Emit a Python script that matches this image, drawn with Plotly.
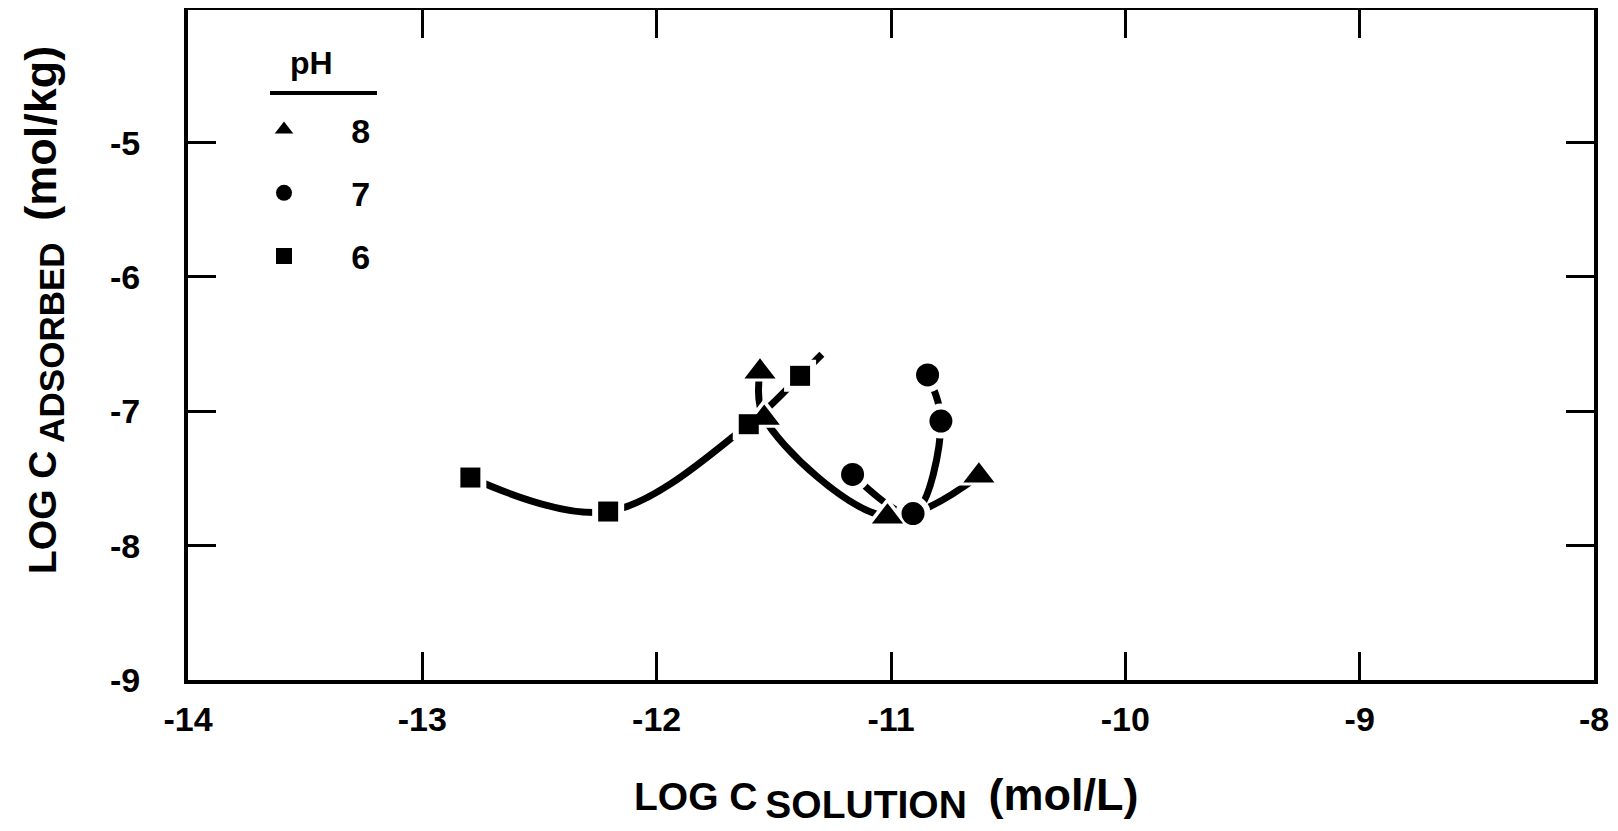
import plotly.graph_objects as go

# ---- data ----
ph_labels = ["8", "7", "6"]

ph8_x = [-11.559, -11.541, -11.015, -10.625]
ph8_y = [-6.706, -7.050, -7.784, -7.480]

ph7_x = [-11.164, -10.906, -10.787, -10.844]
ph7_y = [-7.470, -7.761, -7.073, -6.729]

ph6_x = [-12.795, -12.207, -11.607, -11.388]
ph6_y = [-7.493, -7.746, -7.096, -6.736]
# the pH 6 curve continues a little past its last point
ph6_curve_end_x = [-11.295]
ph6_curve_end_y = [-6.575]

x_ticks = [-14, -13, -12, -11, -10, -9, -8]
x_ticktext = ["-14", "-13", "-12", "-11", "-10", "-9", "-8"]
y_ticks = [-9, -8, -7, -6, -5]
y_ticktext = ["-9", "-8", "-7", "-6", "-5"]

FONT = "Liberation Sans"
# the page body has an 8px default margin, so the figure starts at (8, 8)
OFF = 8
W, H = 1618 - OFF, 831 - OFF
# plot frame in page pixels: x 188..1594, y 10..680
FL, FR, FT, FB = 188, 1594, 10, 680
ML, MT = FL - OFF, FT - OFF
MR, MB = W - (FR - OFF), H - (FB - OFF)
PW, PH = FR - FL, FB - FT


def px_to_paper_x(px):
    return (px - FL) / PW


def px_to_paper_y(py):
    return (FB - py) / PH


fig = go.Figure()

LW = 7
# curves first
for xs, ys in [(ph6_x + ph6_curve_end_x, ph6_y + ph6_curve_end_y),
               (ph8_x, ph8_y),
               (ph7_x, ph7_y)]:
    fig.add_trace(go.Scatter(x=xs, y=ys, mode="lines",
                             line=dict(color="black", width=LW, shape="spline", smoothing=1.0),
                             showlegend=False, hoverinfo="skip"))

series = [(ph6_x, ph6_y, "square", 20, "pH 6"),
          (ph7_x, ph7_y, "circle", 23, "pH 7"),
          (ph8_x, ph8_y, "triangle-up", 27, "pH 8")]
GAP = 12
# white halos (gaps in the curves around each point)
for xs, ys, sym, sz, nm in series:
    fig.add_trace(go.Scatter(x=xs, y=ys, mode="markers",
                             marker=dict(symbol=sym, size=sz + GAP, color="white"),
                             showlegend=False, hoverinfo="skip"))
# black markers on top
for xs, ys, sym, sz, nm in series:
    fig.add_trace(go.Scatter(x=xs, y=ys, mode="markers", name=nm,
                             marker=dict(symbol=sym, size=sz, color="black"),
                             showlegend=False))

# legend entries
NB = "\u00a0"
for lab, sym, grp in zip(ph_labels, ["triangle-up", "circle", "square"], ["a", "b", "c"]):
    fig.add_trace(go.Scatter(x=[None], y=[None], mode="markers",
                             marker=dict(symbol=sym, size=20, color="black"),
                             name=NB * 5 + lab, legendgroup=grp, showlegend=True))

axis_common = dict(
    showline=True, linecolor="black", linewidth=4, mirror="ticks",
    ticks="inside", ticklen=28, tickwidth=3, tickcolor="black",
    showgrid=False, zeroline=False,
    tickfont=dict(family=FONT, size=34, color="black", weight="bold"),
)

fig.update_xaxes(range=[-14, -8], tickvals=x_ticks, ticktext=x_ticktext,
                 ticklabelstandoff=6, **axis_common)
fig.update_yaxes(range=[-9, -4.013], tickvals=y_ticks, ticktext=y_ticktext,
                 ticklabelstandoff=37, **axis_common)

x_title = ("LOG C\u2009<sub><span style=\"font-size:39px\">SOLUTION</span></sub>"
           + NB * 2 + "<span style=\"font-size:45px\">(mol/L)</span>")
y_title = ("LOG C\u2009<sub><span style=\"font-size:35px\">ADSORBED</span></sub>"
           + NB * 2 + "<span style=\"font-size:45px\">(mol/kg)</span>")

fig.update_layout(
    width=W, height=H,
    margin=dict(l=ML, r=MR, t=MT, b=MB, autoexpand=False),
    paper_bgcolor="white", plot_bgcolor="white",
    font=dict(family=FONT, color="black", weight="bold"),
    legend=dict(
        x=px_to_paper_x(264), y=px_to_paper_y(101), xanchor="left", yanchor="top",
        bgcolor="rgba(0,0,0,0)", borderwidth=0,
        font=dict(family=FONT, size=34, color="black", weight="bold"),
        tracegroupgap=16, itemsizing="trace",
    ),
    shapes=[dict(type="line", xref="paper", yref="paper",
                 x0=px_to_paper_x(270), x1=px_to_paper_x(377),
                 y0=px_to_paper_y(93), y1=px_to_paper_y(93),
                 line=dict(color="black", width=4))],
    annotations=[
        dict(text="pH", xref="paper", yref="paper",
             x=px_to_paper_x(311), y=px_to_paper_y(63), xanchor="center", yanchor="middle",
             showarrow=False, font=dict(family=FONT, size=32, color="black", weight="bold")),
        dict(text=x_title, xref="paper", yref="paper",
             x=px_to_paper_x(886), y=px_to_paper_y(797), xanchor="center", yanchor="middle",
             showarrow=False, font=dict(family=FONT, size=39, color="black", weight="bold")),
        dict(text=y_title, xref="paper", yref="paper",
             x=px_to_paper_x(43), y=px_to_paper_y(310), xanchor="center", yanchor="middle",
             textangle=-90, showarrow=False,
             font=dict(family=FONT, size=39, color="black", weight="bold")),
    ],
)

fig.write_html("out.html")
